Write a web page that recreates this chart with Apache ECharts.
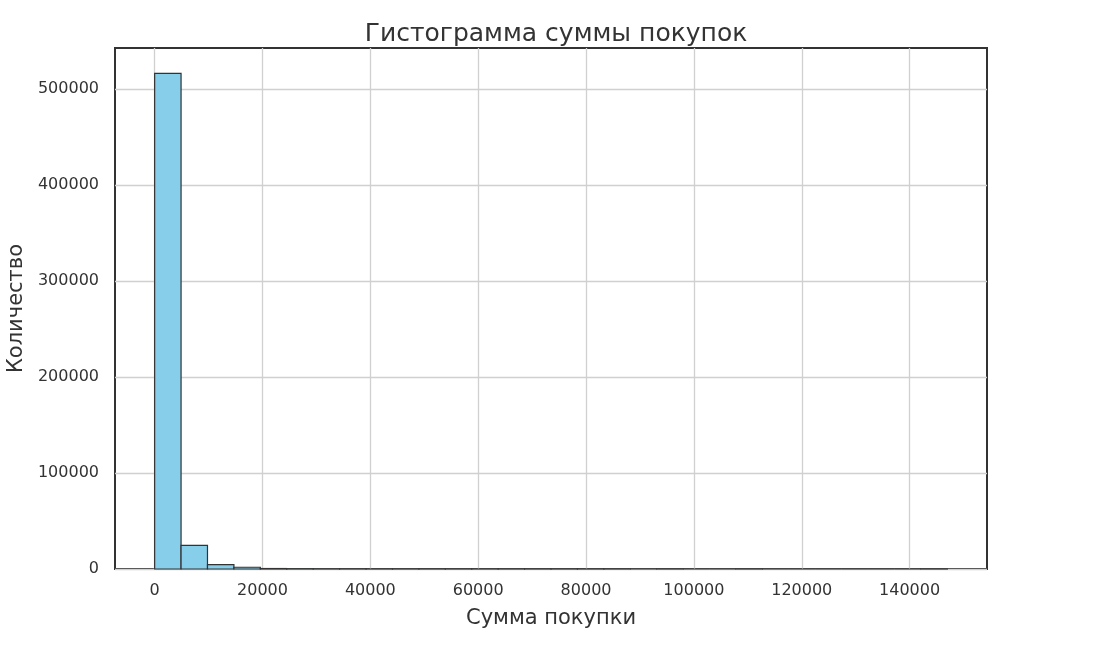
<!DOCTYPE html>
<html>
<head>
<meta charset="utf-8">
<script src="https://cdn.jsdelivr.net/npm/echarts@6/dist/echarts.min.js"></script>
<style>
html,body{margin:0;padding:0;background:#fff;}
#chart{width:1098px;height:645px;}
</style>
</head>
<body>
<div id="chart"></div>
<script>
// Histogram bin edges (Сумма покупки)
var binEdges = [0, 4900, 9800, 14700, 19600, 24500, 29400, 34300, 39200, 44100, 49000,
  53900, 58800, 63700, 68600, 73500, 78400, 83300, 88200, 93100, 98000,
  102900, 107800, 112700, 117600, 122500, 127400, 132300, 137200, 142100, 147000];
// Counts per bin (Количество)
var binCounts = [516500, 24600, 4600, 1800, 500, 250, 60, 30, 15, 10, 6,
  4, 3, 2, 2, 1, 1, 1, 0, 1, 0, 0, 1, 0, 0, 0, 0, 0, 0, 1];
var xTicks = [0, 20000, 40000, 60000, 80000, 100000, 120000, 140000];
var yTicks = [0, 100000, 200000, 300000, 400000, 500000];

var xMin = -7350, xMax = 154350, yMax = 543000;

var data = binCounts.map(function (c, i) { return [binEdges[i], binEdges[i + 1], c]; });

var chart = echarts.init(document.getElementById('chart'));
var font = 'DejaVu Sans';
var plain = function (v) { return String(v); };
chart.setOption({
  backgroundColor: '#ffffff',
  animation: false,
  title: {
    text: 'Гистограмма суммы покупок',
    left: 551, top: 17, textAlign: 'center',
    textStyle: { fontFamily: font, fontSize: 25, fontWeight: 'normal', color: '#333333' }
  },
  grid: {
    left: 115, right: 111, top: 48, bottom: 76,
    containLabel: false, outerBoundsMode: 'none',
    show: true, borderColor: '#333333', borderWidth: 2, backgroundColor: 'transparent'
  },
  xAxis: {
    type: 'value', min: xMin, max: xMax,
    name: 'Сумма покупки', nameLocation: 'middle', nameGap: 39,
    nameTextStyle: { fontFamily: font, fontSize: 21, color: '#333333' },
    axisLine: { show: false },
    axisTick: { show: false, customValues: xTicks },
    axisLabel: {
      fontFamily: font, fontSize: 16, color: '#333333', margin: 14,
      customValues: xTicks, formatter: plain
    },
    splitLine: { show: true, lineStyle: { color: '#d0d0d0', width: 1.3 } }
  },
  yAxis: {
    type: 'value', min: 0, max: yMax,
    name: 'Количество', nameLocation: 'middle', nameGap: 86, nameRotate: 90,
    nameTextStyle: { fontFamily: font, fontSize: 21, color: '#333333' },
    axisLine: { show: false },
    axisTick: { show: false, customValues: yTicks },
    axisLabel: { fontFamily: font, fontSize: 16, color: '#333333', margin: 16, customValues: yTicks, formatter: plain },
    splitLine: { show: true, lineStyle: { color: '#d0d0d0', width: 1.3 } }
  },
  series: [{
    type: 'custom',
    data: data,
    encode: { x: [0, 1], y: 2 },
    renderItem: function (params, api) {
      var p0 = api.coord([api.value(0), api.value(2)]);
      var p1 = api.coord([api.value(1), 0]);
      return {
        type: 'rect',
        shape: { x: p0[0], y: p0[1], width: p1[0] - p0[0], height: p1[1] - p0[1] },
        style: { fill: '#87CEEB', stroke: '#333333', lineWidth: 1.2 }
      };
    }
  }]
});
</script>
</body>
</html>
